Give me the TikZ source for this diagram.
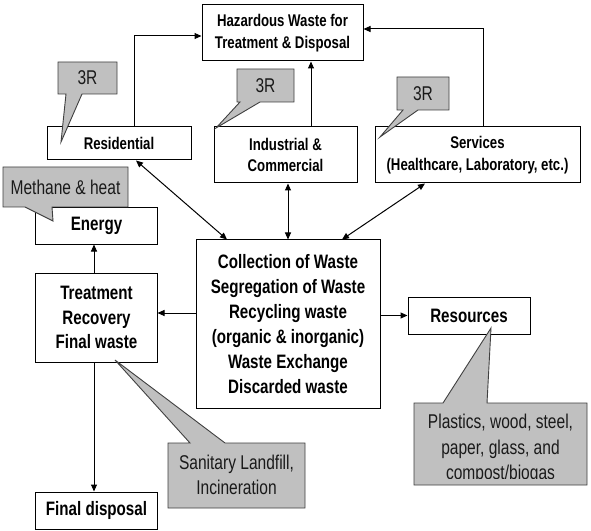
\documentclass[tikz,border=0pt]{standalone}
\usepackage{fontspec}
\setmainfont{Liberation Sans}[FakeStretch=0.78]
\usetikzlibrary{arrows.meta}
\definecolor{callfill}{HTML}{C0C0C0}
\definecolor{callline}{HTML}{404040}
\definecolor{calltext}{HTML}{1A1A1A}
\begin{document}
\begin{tikzpicture}[x=1bp,y=-1bp,
  box/.style={draw=black, line width=1bp, fill=white, inner sep=0pt, align=center},
  upper/.style={box, font=\fontsize{17}{21.5}\selectfont\bfseries},
  lower/.style={box, font=\fontsize{19.5}{25}\selectfont\bfseries},
  callout/.style={draw=callline, fill=callfill, line width=0.9bp, line join=miter},
  ctext/.style={inner sep=0pt, align=center, text=calltext, font=\fontsize{20}{25.5}\selectfont},
  arr/.style={line width=1bp, -{Triangle[length=7bp,width=6bp]}},
  darr/.style={line width=1bp, {Triangle[length=7bp,width=6bp]}-{Triangle[length=7bp,width=6bp]}}]
\useasboundingbox[fill=white] (0,0) rectangle (591,531);

% boxes
\node[upper, minimum width=161bp, minimum height=56bp] (haz) at (282.5,33) {Hazardous Waste for\\Treatment \& Disposal};
\node[upper, minimum width=144bp, minimum height=33bp] (res) at (119,143.5) {Residential};
\node[upper, minimum width=143bp, minimum height=56bp] (ind) at (285.5,155) {Industrial \&\\Commercial};
\node[upper, minimum width=205bp, minimum height=56bp] (ser) at (477.5,155) {Services\\(Healthcare, Laboratory, etc.)};
\node[lower, minimum width=121bp, minimum height=36bp] (ene) at (96.5,226) {Energy};
\node[lower, minimum width=121bp, minimum height=89bp] (tre) at (96.5,317.5) {Treatment\\Recovery\\Final waste};
\node[lower, minimum width=121bp, minimum height=37bp] (fin) at (96.5,510.5) {Final disposal};
\node[lower, minimum width=184bp, minimum height=168bp] (col) at (288,324) {Collection of Waste\\Segregation of Waste\\Recycling waste\\(organic \& inorganic)\\Waste Exchange\\Discarded waste};
\node[lower, minimum width=122bp, minimum height=37bp] (rsc) at (469,315.5) {Resources};

% connectors
\draw[arr] ([xshift=15bp]res.north) |- ([yshift=-3bp]haz.west);
\draw[arr] ([xshift=25.5bp]ind.north) -- ([xshift=25.5bp]ind.north |- haz.south);
\draw[arr] ([xshift=5.5bp]ser.north) |- ([yshift=4bp]haz.east);
\draw[darr] ([xshift=17bp]res.south) -- ([xshift=-61bp]col.north);
\draw[darr] (ind.south -| col.north) -- (col.north);
\draw[darr] ([xshift=-52.5bp]ser.south) -- ([xshift=54bp]col.north);
\draw[arr] ([xshift=-2.5bp]tre.north) -- ([xshift=-2.5bp]ene.south);
\draw[arr] ([yshift=11bp]col.west) coordinate (cw) -- (cw -| tre.east);
\draw[arr] (rsc.west -| col.east) -- (rsc.west);
\draw[arr] ([xshift=-2.5bp]tre.south) -- ([xshift=-2.5bp]fin.north);

% callouts
\draw[callout] (58,62) -- (117,62) -- (117,94) -- (82,94) -- (61,142) -- (66,94) -- (58,94) -- cycle;
\node[ctext] (c1) at (87.5,78) {3R};
\draw[callout] (237,69) -- (294,69) -- (294,102) -- (260,102) -- (216,128) -- (240,102) -- (237,102) -- cycle;
\node[ctext] (c2) at (265.5,85.5) {3R};
\draw[callout] (397,77) -- (449,77) -- (449,110) -- (418,110) -- (380,137) -- (403,110) -- (397,110) -- cycle;
\node[ctext] (c3) at (423,93.5) {3R};
\draw[callout] (3,167) -- (128,167) -- (128,207) -- (52,207) -- (53,221) -- (25,207) -- (3,207) -- cycle;
\node[ctext] (c4) at (65.5,187) {Methane \& heat};
\draw[callout] (168,443) -- (190,443) -- (115,360) -- (225,443) -- (305,443) -- (305,508) -- (168,508) -- cycle;
\node[ctext] (c5) at (236.5,475) {Sanitary Landfill,\\Incineration};
\draw[callout] (414,403) -- (443,403) -- (491,328) -- (487,403) -- (587,403) -- (587,485) -- (414,485) -- cycle;
\begin{scope}
\clip (414,403) rectangle (587,478);
\node[ctext] (c6) at (500.5,449) {Plastics, wood, steel,\\paper, glass, and\\compost/biogas};
\end{scope}
\end{tikzpicture}
\end{document}
